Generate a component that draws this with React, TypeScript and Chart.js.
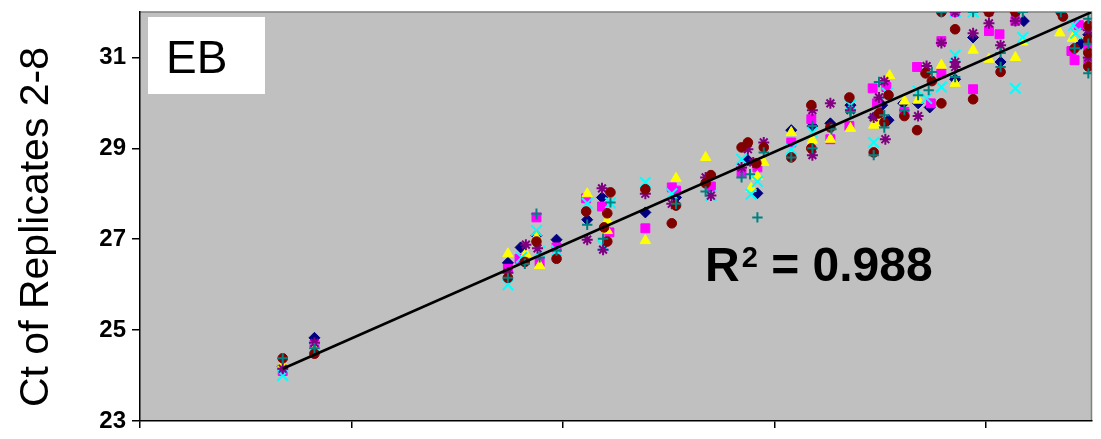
import React, { useEffect, useRef } from "react";
import { Chart, registerables } from "chart.js";

Chart.register(...registerables);

type P = [number, number];

const seriesNames = ["Replicate 2", "Replicate 3", "Replicate 4", "Replicate 5", "Replicate 6", "Replicate 7", "Replicate 8"];

const rep2: P[] = [
  [24.35, 24.2], [24.65, 24.83], [26.48, 26.48], [26.6, 26.82], [26.75, 27.08], [26.94, 26.99], [27.23, 27.43],
  [27.37, 27.92], [27.78, 27.59], [28.07, 27.92], [28.75, 28.74], [28.84, 28.01], [29.16, 29.4], [29.36, 29.49],
  [29.53, 29.55], [29.72, 29.95], [30.02, 29.95], [29.94, 29.68], [30.08, 29.62], [30.22, 29.99], [30.36, 29.99],
  [30.47, 29.9], [30.71, 30.52], [30.88, 31.44], [31.14, 30.9], [31.36, 31.8], [31.9, 31.3], [31.97, 31.5],
];
const rep3: P[] = [
  [24.35, 24.1], [24.65, 24.68], [26.48, 26.35], [26.59, 26.57], [26.75, 27.48], [26.78, 26.5], [26.94, 26.82],
  [27.22, 27.9], [27.37, 27.72], [27.44, 27.15], [27.78, 27.24], [28.03, 28.14], [28.07, 28.07], [28.4, 28.16],
  [28.69, 28.47], [28.84, 28.58], [29.16, 29.13], [29.35, 29.64], [29.53, 29.2], [29.71, 29.49], [29.93, 30.32],
  [30.06, 30.35], [29.97, 29.99], [30.23, 29.8], [30.35, 30.79], [30.48, 29.99], [30.58, 30.65], [30.58, 31.36],
  [30.71, 32.0], [30.88, 30.3], [31.03, 31.58], [31.13, 31.51], [31.28, 31.8], [31.81, 31.14], [31.84, 30.94],
  [31.88, 31.71], [31.97, 31.2], [31.97, 30.9],
];
const rep4: P[] = [
  [24.35, 24.25], [24.65, 24.59], [26.48, 26.68], [26.65, 26.68], [26.75, 27.04], [26.78, 26.42], [27.23, 28.0],
  [27.42, 27.41], [27.42, 27.19], [27.78, 26.97], [28.07, 28.34], [28.35, 28.8], [28.84, 28.38], [28.78, 28.12],
  [28.9, 28.69], [29.16, 29.35], [29.36, 29.18], [29.53, 29.2], [29.72, 29.44], [29.94, 29.51], [29.99, 29.57],
  [30.09, 30.6], [30.23, 30.04], [30.36, 30.06], [30.58, 30.83], [30.71, 30.43], [30.88, 31.16], [31.03, 30.96],
  [31.28, 31.0], [31.35, 31.34], [31.7, 31.54], [31.82, 31.42],
];
const rep5: P[] = [
  [24.35, 24.0], [24.65, 24.63], [26.48, 26.0], [26.61, 26.6], [26.75, 27.19], [26.78, 26.73], [26.94, 26.75],
  [27.23, 27.79], [27.45, 27.8], [27.38, 26.86], [27.78, 28.25], [28.03, 28.0], [28.4, 27.96], [28.69, 28.76],
  [28.84, 28.27], [28.78, 27.99], [29.16, 28.98], [29.36, 29.35], [29.72, 29.95], [30.07, 30.21], [29.94, 29.13],
  [30.36, 30.26], [30.44, 30.1], [30.58, 30.35], [30.71, 31.05], [30.71, 32.0], [30.88, 32.0], [31.28, 30.32],
  [31.35, 31.44], [31.83, 31.71], [31.85, 31.53],
];
const rep6: P[] = [
  [24.35, 24.15], [24.65, 24.72], [26.48, 26.26], [26.65, 26.88], [26.76, 26.8], [27.23, 26.99], [27.37, 28.12],
  [27.38, 26.77], [27.78, 28.0], [28.03, 27.78], [28.35, 28.36], [28.4, 27.96], [28.69, 28.58], [28.75, 28.98],
  [28.8, 28.69], [28.9, 29.13], [29.36, 29.84], [29.36, 28.85], [29.53, 29.99], [29.72, 29.84], [30.04, 30.48],
  [29.99, 30.12], [29.94, 29.68], [30.05, 29.2], [30.36, 29.71], [30.44, 30.81], [30.58, 31.32], [30.71, 30.9],
  [30.71, 30.79], [30.71, 32.0], [30.88, 31.53], [31.03, 31.75], [31.03, 32.0], [31.14, 31.27], [31.28, 31.8],
  [31.28, 32.0], [31.97, 31.0], [31.97, 31.6],
];
const rep7: P[] = [
  [24.35, 24.38], [24.65, 24.48], [26.48, 26.15], [26.64, 26.5], [26.75, 26.95], [26.94, 26.57], [27.22, 27.61],
  [27.45, 28.03], [27.42, 27.57], [27.39, 27.26], [27.42, 26.95], [27.78, 28.1], [28.07, 27.74], [28.03, 27.35],
  [28.4, 28.41], [28.35, 28.23], [28.69, 29.02], [28.75, 29.13], [28.83, 28.67], [28.9, 29.02], [29.16, 28.8],
  [29.35, 29.95], [29.35, 29.0], [29.53, 29.46], [29.71, 30.12], [30.08, 30.17], [29.99, 29.77], [30.04, 29.57],
  [29.94, 28.91], [30.23, 29.71], [30.35, 29.4], [30.43, 30.65], [30.49, 30.48], [30.58, 29.99], [30.58, 32.0],
  [30.71, 31.62], [30.88, 30.08], [31.03, 32.0], [31.14, 30.68], [31.28, 32.0], [31.73, 31.9], [31.84, 31.2],
  [31.97, 30.8], [31.97, 31.1], [31.97, 31.4], [31.97, 31.7], [31.71, 32.0],
];
const rep8: P[] = [
  [24.35, 24.38], [24.65, 24.6], [26.48, 26.15], [26.64, 26.46], [26.75, 27.56], [26.78, 26.6], [26.94, 26.75],
  [27.23, 27.32], [27.45, 27.81], [27.38, 27.01], [28.07, 27.78], [28.35, 28.05], [28.69, 28.36], [28.77, 28.43],
  [28.84, 27.48], [28.9, 28.91], [29.16, 28.8], [29.36, 29.49], [29.36, 29.0], [29.54, 29.42], [29.72, 29.8],
  [29.99, 30.46], [30.04, 29.73], [30.04, 29.46], [29.94, 28.85], [30.23, 29.84], [30.36, 30.17], [30.46, 30.28],
  [30.49, 30.68], [30.58, 32.0], [30.71, 30.57], [30.88, 32.0], [31.14, 31.1], [31.14, 30.79], [31.35, 32.0],
  [31.84, 31.2], [31.71, 32.0], [31.97, 30.65], [31.97, 31.3], [31.97, 31.85],
];

const trendLine: P[] = [[24.35, 24.15], [32.0, 32.0]];
const axisMin = 23;
const axisMax = 32;
const tickValues = [23, 25, 27, 29, 31];
const yTitle = "Ct of Replicates 2-8";
const panelLabel = "EB";
const r2Base = "R";
const r2Sup = "2";
const r2Rest = " = 0.988";

const FONT = "'Liberation Sans', Arial, sans-serif";

export default function App() {
  const ref = useRef<HTMLCanvasElement | null>(null);
  useEffect(() => {
    document.body.style.margin = "0";
    const canvas = ref.current!;
    const toXY = (a: P[]) => a.map(([x, y]) => ({ x, y }));
    const styles = [
      { data: rep2, shape: "rectRot", color: "#000080", r: 5.5, fill: true },
      { data: rep3, shape: "rect", color: "#FF00FF", r: 6.3, fill: true },
      { data: rep4, shape: "triangle", color: "#FFFF00", r: 6, fill: true },
      { data: rep5, shape: "crossRot", color: "#00FFFF", r: 7.5, fill: false },
      { data: rep6, shape: "star", color: "#800080", r: 5.5, fill: false },
      { data: rep7, shape: "circle", color: "#800000", r: 4.8, fill: true },
      { data: rep8, shape: "cross", color: "#008080", r: 5.2, fill: false },
    ];
    const datasets: any[] = [
      {
        type: "line",
        label: "Trend",
        data: toXY(trendLine),
        borderColor: "#000",
        borderWidth: 2.5,
        pointRadius: 0,
        fill: false,
        order: 0,
        clip: 0,
      },
      ...styles.map((s, i) => ({
        type: "scatter",
        label: seriesNames[i],
        data: toXY(s.data),
        pointStyle: s.shape,
        pointRadius: s.r,
        pointBackgroundColor: s.color,
        pointBorderColor: s.color,
        pointBorderWidth: s.fill ? 1 : 2,
        order: 10 - i,
        clip: 0,
      })),
    ];

    const bgPlugin = {
      id: "bg",
      beforeDraw(chart: any) {
        const { ctx, chartArea: a } = chart;
        ctx.save();
        ctx.fillStyle = "#C0C0C0";
        ctx.fillRect(a.left, a.top, a.right - a.left, a.bottom - a.top);
        ctx.strokeStyle = "#808080";
        ctx.lineWidth = 1.5;
        ctx.beginPath();
        ctx.moveTo(a.left, a.top);
        ctx.lineTo(a.right, a.top);
        ctx.lineTo(a.right, a.bottom);
        ctx.stroke();
        ctx.restore();
      },
      afterDraw(chart: any) {
        const { ctx } = chart;
        ctx.save();
        ctx.translate(48, 227);
        ctx.rotate(-Math.PI / 2);
        ctx.fillStyle = "#000";
        ctx.font = `41px ${FONT}`;
        ctx.textAlign = "center";
        ctx.textBaseline = "alphabetic";
        ctx.fillText(yTitle, 0, 0);
        ctx.restore();

        ctx.save();
        ctx.fillStyle = "#fff";
        ctx.fillRect(148, 17, 117, 77);
        ctx.fillStyle = "#000";
        ctx.font = `46px ${FONT}`;
        ctx.textAlign = "left";
        ctx.textBaseline = "alphabetic";
        ctx.fillText(panelLabel, 166, 73);

        let x = 705;
        ctx.font = `bold 48px ${FONT}`;
        ctx.fillText(r2Base, x, 281);
        x += ctx.measureText(r2Base).width + 2;
        ctx.font = `bold 29px ${FONT}`;
        ctx.fillText(r2Sup, x, 267);
        x += ctx.measureText(r2Sup).width;
        ctx.font = `bold 48px ${FONT}`;
        ctx.fillText(r2Rest, x, 281);
        ctx.restore();
      },
    };

    const chart = new Chart(canvas, {
      type: "scatter",
      data: { datasets },
      plugins: [bgPlugin],
      options: {
        animation: false,
        responsive: false,
        maintainAspectRatio: false,
        devicePixelRatio: 1,
        layout: { padding: { top: 12, right: 8, left: 0, bottom: 0 } },
        plugins: { legend: { display: false }, tooltip: { enabled: false } },
        scales: {
          x: {
            type: "linear",
            min: axisMin,
            max: axisMax,
            afterBuildTicks: (axis: any) => {
              axis.ticks = tickValues.map((v) => ({ value: v }));
            },
            afterFit: (axis: any) => {
              axis.height = 18;
              axis.paddingLeft = 0;
              axis.paddingRight = 0;
              axis.paddingTop = 0;
              axis.paddingBottom = 0;
            },
            ticks: { display: false },
            grid: { drawOnChartArea: false, drawTicks: true, tickLength: 7, color: "#000", lineWidth: 1.5 },
            border: { display: true, color: "#000", width: 1.5 },
          },
          y: {
            type: "linear",
            min: axisMin,
            max: axisMax,
            afterBuildTicks: (axis: any) => {
              axis.ticks = tickValues.map((v) => ({ value: v }));
            },
            afterFit: (axis: any) => {
              axis.width = 140;
              axis.paddingTop = 0;
              axis.paddingBottom = 0;
              axis.paddingLeft = 0;
              axis.paddingRight = 0;
            },
            ticks: {
              color: "#000",
              font: { family: FONT, size: 24, weight: "bold" },
              padding: 6,
            },
            grid: { drawOnChartArea: false, drawTicks: true, tickLength: 8, color: "#000", lineWidth: 1.5 },
            border: { display: true, color: "#000", width: 1.5 },
          },
        },
      } as any,
    });
    return () => chart.destroy();
  }, []);
  return (
    <div style={{ position: "fixed", left: 0, top: 0, width: 1101, height: 439 }}>
      <canvas ref={ref} width={1101} height={439} style={{ width: 1101, height: 439, display: "block" }} />
    </div>
  );
}
